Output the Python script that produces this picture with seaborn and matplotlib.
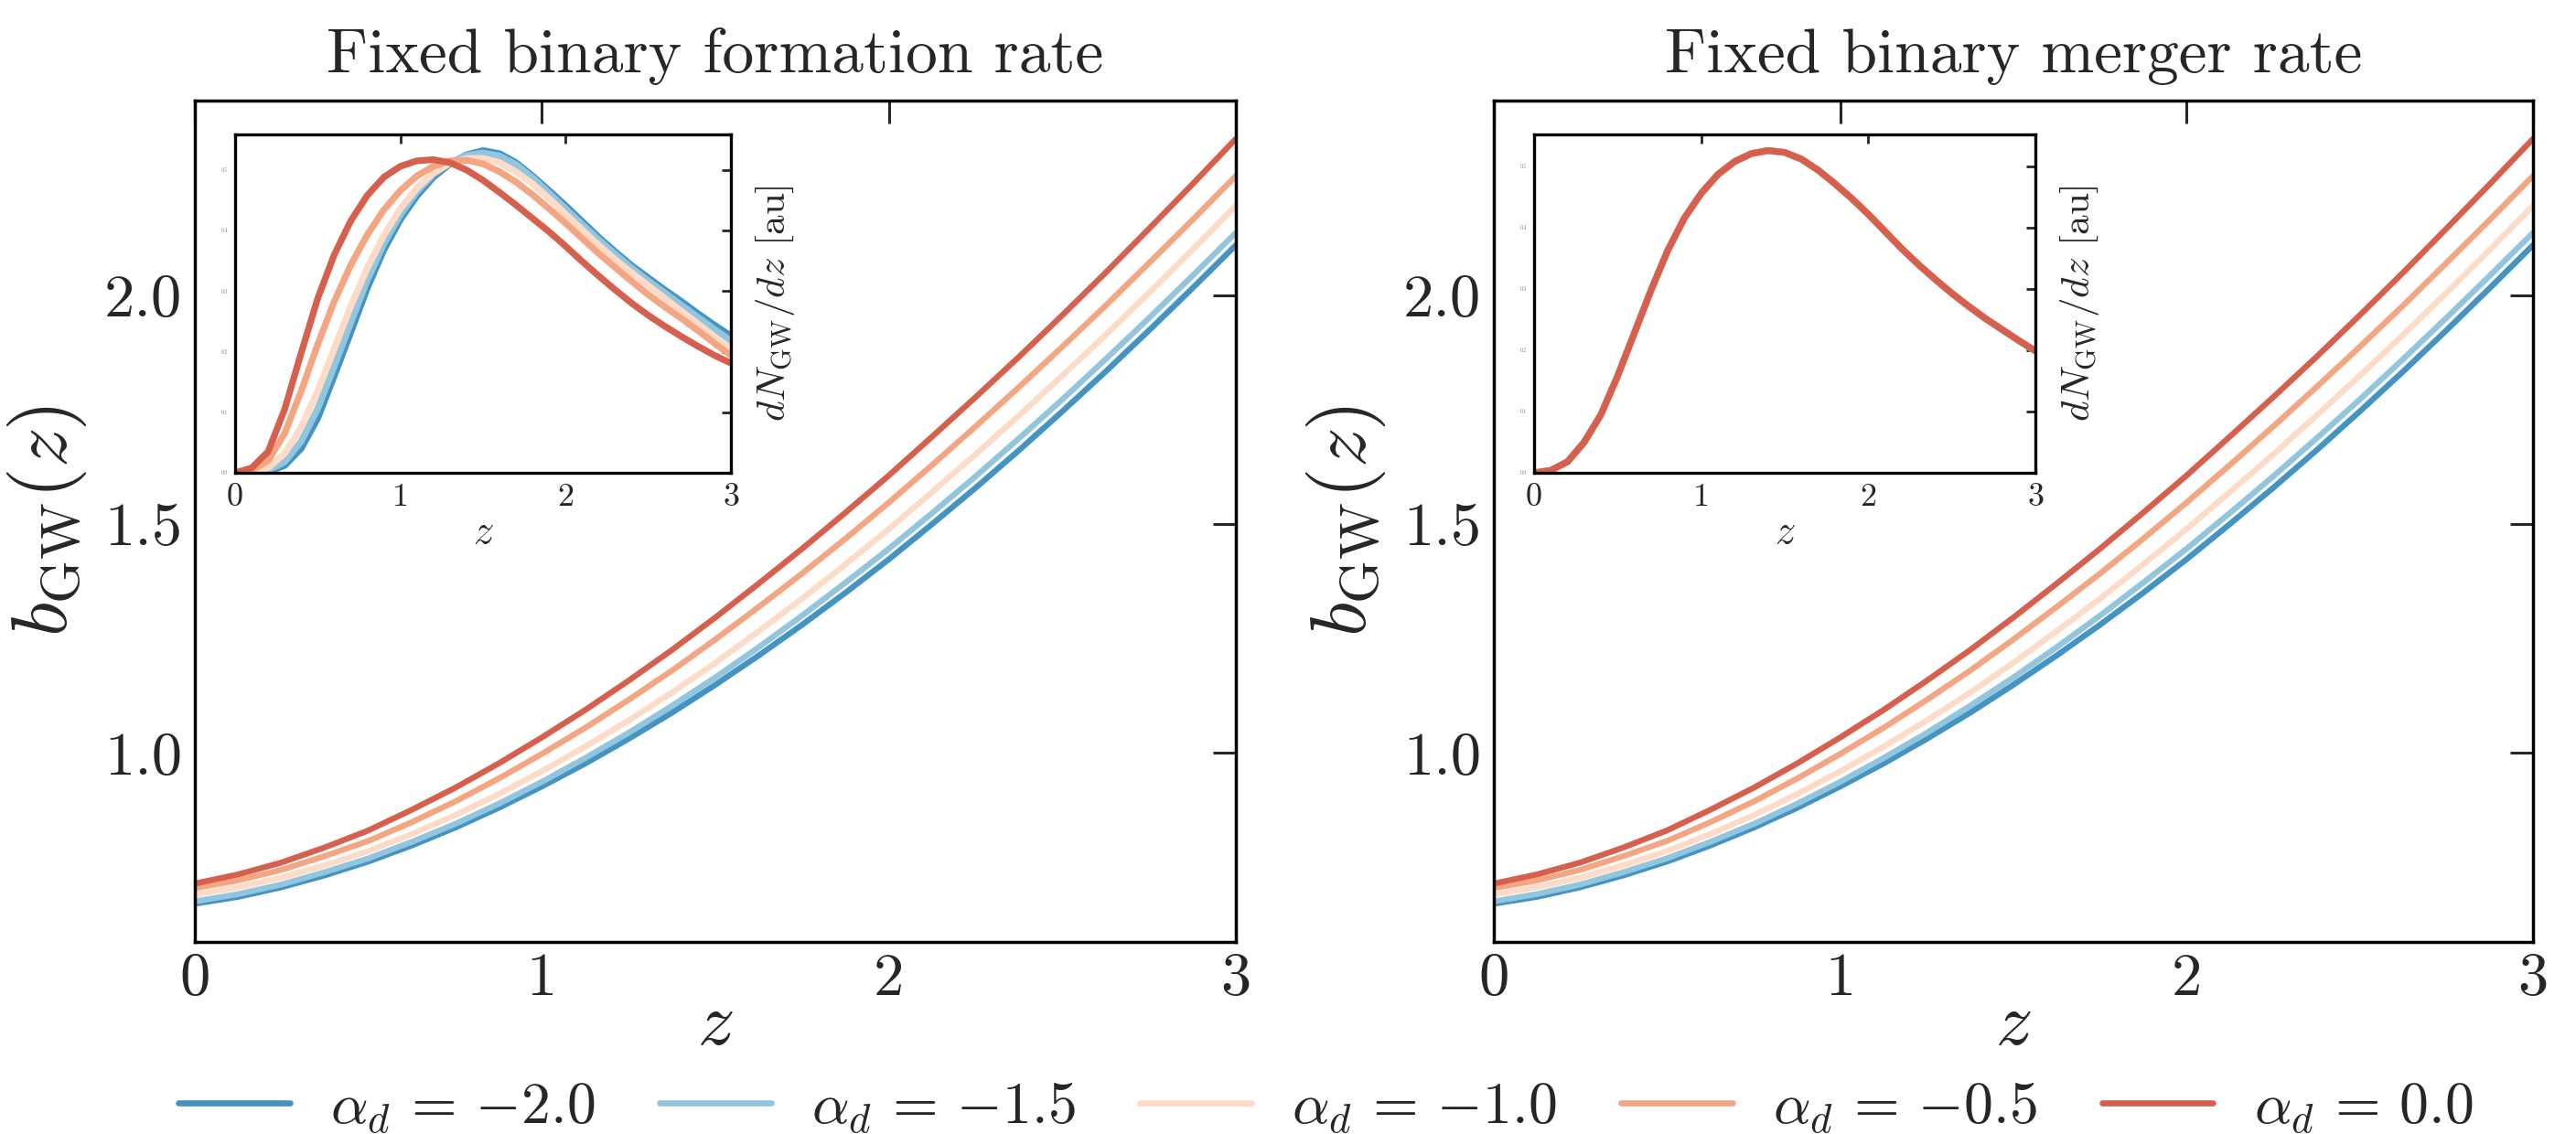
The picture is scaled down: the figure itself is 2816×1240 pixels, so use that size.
import numpy as np
import pandas as pd
import matplotlib
matplotlib.use("Agg")
import matplotlib.pyplot as plt
from matplotlib.lines import Line2D
import seaborn as sns

# ---------------- data ----------------
alphas = [-2.0, -1.5, -1.0, -0.5, 0.0]
colors = ["#4393c3", "#92c5de", "#fddbc7", "#f4a582", "#d6604d"]

# main panels: b_GW(z), z = 0 ... 3 in steps of 0.125
z_main = [0.0, 0.125, 0.25, 0.375, 0.5, 0.625, 0.75, 0.875, 1.0, 1.125, 1.25, 1.375, 1.5,
          1.625, 1.75, 1.875, 2.0, 2.125, 2.25, 2.375, 2.5, 2.625, 2.75, 2.875, 3.0]
b_m20 = [0.671, 0.686, 0.707, 0.733, 0.763, 0.798, 0.837, 0.880, 0.927, 0.977, 1.031, 1.088, 1.149,
         1.213, 1.280, 1.350, 1.423, 1.500, 1.579, 1.661, 1.746, 1.833, 1.923, 2.015, 2.109]
b_m15 = [0.676, 0.692, 0.713, 0.740, 0.770, 0.806, 0.845, 0.889, 0.937, 0.989, 1.044, 1.103, 1.165,
         1.231, 1.300, 1.372, 1.446, 1.524, 1.604, 1.687, 1.772, 1.860, 1.950, 2.042, 2.136]
b_m10 = [0.691, 0.707, 0.728, 0.755, 0.786, 0.823, 0.864, 0.910, 0.960, 1.014, 1.071, 1.132, 1.197,
         1.266, 1.337, 1.412, 1.489, 1.570, 1.652, 1.737, 1.824, 1.913, 2.005, 2.099, 2.195]
b_m05 = [0.705, 0.722, 0.745, 0.775, 0.808, 0.849, 0.894, 0.944, 0.998, 1.055, 1.116, 1.180, 1.248,
         1.319, 1.392, 1.468, 1.547, 1.629, 1.713, 1.799, 1.887, 1.977, 2.070, 2.164, 2.260]
b_p00 = [0.715, 0.735, 0.761, 0.794, 0.831, 0.876, 0.924, 0.977, 1.034, 1.094, 1.158, 1.225, 1.296,
         1.370, 1.446, 1.525, 1.606, 1.691, 1.777, 1.865, 1.956, 2.049, 2.145, 2.242, 2.341]
b_curves = [b_m20, b_m15, b_m10, b_m05, b_p00]

# insets: dN_GW/dz [au], z = 0 ... 3 in steps of 0.1
z_in = [0.0, 0.1, 0.2, 0.3, 0.4, 0.5, 0.6, 0.7, 0.8, 0.9, 1.0, 1.1, 1.2, 1.3, 1.4, 1.5,
        1.6, 1.7, 1.8, 1.9, 2.0, 2.1, 2.2, 2.3, 2.4, 2.5, 2.6, 2.7, 2.8, 2.9, 3.0]
form_m20 = [0.0, 0.0, 0.002, 0.012, 0.040, 0.090, 0.160, 0.232, 0.305, 0.368, 0.418, 0.457, 0.488,
            0.510, 0.525, 0.532, 0.527, 0.512, 0.490, 0.466, 0.441, 0.415, 0.389, 0.365, 0.342,
            0.322, 0.302, 0.283, 0.263, 0.244, 0.226]
form_m15 = [0.0, 0.0, 0.004, 0.018, 0.052, 0.106, 0.176, 0.248, 0.318, 0.378, 0.426, 0.464, 0.493,
            0.512, 0.524, 0.528, 0.523, 0.509, 0.487, 0.462, 0.436, 0.410, 0.385, 0.361, 0.338,
            0.317, 0.297, 0.277, 0.257, 0.237, 0.218]
form_m10 = [0.0, 0.001, 0.008, 0.032, 0.075, 0.135, 0.205, 0.275, 0.338, 0.392, 0.436, 0.470, 0.495,
            0.511, 0.519, 0.519, 0.512, 0.497, 0.477, 0.453, 0.427, 0.401, 0.376, 0.352, 0.330,
            0.309, 0.288, 0.267, 0.246, 0.225, 0.205]
form_m05 = [0.0, 0.004, 0.020, 0.065, 0.135, 0.212, 0.283, 0.343, 0.393, 0.434, 0.466, 0.490, 0.506,
            0.515, 0.516, 0.510, 0.497, 0.480, 0.459, 0.436, 0.412, 0.387, 0.362, 0.339, 0.316,
            0.294, 0.274, 0.255, 0.235, 0.214, 0.194]
form_p00 = [0.0, 0.008, 0.035, 0.105, 0.198, 0.288, 0.360, 0.416, 0.458, 0.488, 0.506, 0.515, 0.517,
            0.512, 0.500, 0.483, 0.463, 0.442, 0.420, 0.398, 0.374, 0.349, 0.325, 0.302, 0.280,
            0.260, 0.242, 0.225, 0.209, 0.194, 0.181]
form_curves = [form_m20, form_m15, form_m10, form_m05, form_p00]
merger_dndz = [0.0, 0.004, 0.018, 0.050, 0.095, 0.158, 0.228, 0.298, 0.363, 0.416, 0.456, 0.487,
               0.508, 0.521, 0.526, 0.523, 0.512, 0.494, 0.472, 0.448, 0.422, 0.394, 0.366, 0.340,
               0.316, 0.293, 0.272, 0.252, 0.234, 0.216, 0.199]
merger_curves = [merger_dndz] * 5

inset_yticks = [0.0, 0.1, 0.2, 0.3, 0.4, 0.5]
main_xticks = [0, 1, 2, 3]
main_yticks = [1.0, 1.5, 2.0]
titles = ["Fixed binary formation rate", "Fixed binary merger rate"]

labels = [r"$\alpha_d\,=\,{%.1f}$" % a for a in alphas]
palette = dict(zip(labels, colors))


def long_df(zs, curves):
    rows = []
    for lab, c in zip(labels, curves):
        for zz, v in zip(zs, c):
            rows.append((lab, zz, v))
    return pd.DataFrame(rows, columns=["alpha", "z", "val"])


# ---------------- style ----------------
sns.set_style("white")
plt.rcParams.update({
    "font.family": ["serif"],
    "font.serif": ["cmr10"],
    "mathtext.fontset": "cm",
    "axes.formatter.use_mathtext": True,
    "axes.edgecolor": "black",
    "axes.linewidth": 1.25,
})

W, H = 2816, 1240
fig = plt.figure(figsize=(W / 200, H / 200), dpi=200)

main_pos = [[213 / W, 1 - 1030 / H, 1138 / W, 920 / H],
            [1633 / W, 1 - 1030 / H, 1136 / W, 920 / H]]
inset_pos = [[257 / W, 1 - 517 / H, 542 / W, 370 / H],
             [1677 / W, 1 - 517 / H, 548 / W, 370 / H]]
inset_data = [form_curves, merger_curves]

for k in range(2):
    ax = fig.add_axes(main_pos[k])
    sns.lineplot(data=long_df(z_main, b_curves), x="z", y="val", hue="alpha",
                 hue_order=labels, palette=palette, ax=ax, legend=False,
                 linewidth=2.3, estimator=None, sort=False)
    ax.set_xlim(0, 3)
    ax.set_xticks(main_xticks)
    ax.set_yticks(main_yticks)
    ax.set_yticklabels(["%.1f" % v for v in main_yticks])
    ax.set_xticklabels(["%d" % v for v in main_xticks])
    ax.tick_params(direction="in", top=True, right=True, length=9, width=1.1,
                   labelsize=24)
    ax.tick_params(axis="x", pad=4)
    ax.tick_params(axis="y", pad=5)
    ax.set_xlabel(r"$z$", fontsize=29, labelpad=-5)
    ax.set_ylabel(r"$b_{\rm GW}(z)$", fontsize=31, labelpad=6)
    ax.set_title(titles[k], fontsize=25, pad=11)
    for s in ax.spines.values():
        s.set_linewidth(1.25)

    axi = fig.add_axes(inset_pos[k])
    sns.lineplot(data=long_df(z_in, inset_data[k]), x="z", y="val", hue="alpha",
                 hue_order=labels, palette=palette, ax=axi, legend=False,
                 linewidth=2.6, estimator=None, sort=False)
    axi.set_xlim(0, 3)
    axi.set_ylim(bottom=0)
    axi.set_xticks(main_xticks)
    axi.set_xticklabels(["%d" % v for v in main_xticks])
    axi.set_yticks(inset_yticks)
    axi.set_yticklabels(["%.1f" % v for v in inset_yticks], fontsize=2, color="#777777")
    axi.tick_params(direction="in", top=True, right=True, length=3.6, width=1.0)
    axi.tick_params(axis="x", labelsize=13, pad=4)
    axi.tick_params(axis="y", pad=3)
    axi.set_xlabel(r"$z$", fontsize=16, labelpad=1)
    axi.yaxis.set_label_position("right")
    axi.set_ylabel(r"$dN_{\rm GW}/dz$ [au]", fontsize=15.5, labelpad=9)
    for s in axi.spines.values():
        s.set_linewidth(1.2)

handles = [Line2D([0], [0], color=c, lw=2.4) for c in colors]
fig.legend(handles, labels, loc="center", bbox_to_anchor=(0.5147, 1 - 1212 / H),
           ncol=5, frameon=False, fontsize=23, handlelength=1.9,
           handletextpad=0.7, columnspacing=1.1, borderpad=0, borderaxespad=0)

fig.savefig("out.png", dpi=200)
